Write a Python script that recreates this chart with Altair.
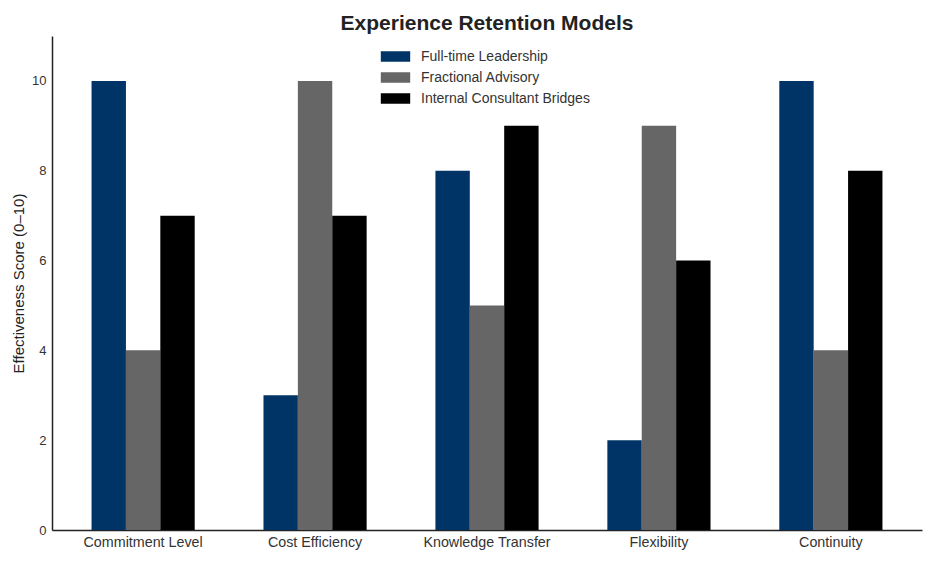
import altair as alt
import pandas as pd

categories = ["Commitment Level", "Cost Efficiency", "Knowledge Transfer", "Flexibility", "Continuity"]
series = ["Full-time Leadership", "Fractional Advisory", "Internal Consultant Bridges"]
full_time = [10, 3, 8, 2, 10]
fractional = [4, 10, 5, 9, 4]
internal = [7, 7, 9, 6, 8]
colors = ["#003366", "#666666", "#000000"]

rows = []
for i, c in enumerate(categories):
    for s, vals in zip(series, [full_time, fractional, internal]):
        rows.append({"Category": c, "Model": s, "Score": vals[i]})
df = pd.DataFrame(rows)

FONT = "Liberation Sans"

chart = alt.Chart(df).mark_bar().encode(
    x=alt.X("Category:N", sort=categories,
            scale=alt.Scale(paddingInner=0.4, paddingOuter=0.23),
            axis=alt.Axis(title=None, labelAngle=0, ticks=False, labelPadding=5,
                          labelFontSize=14.3, labelColor="#333333", labelFont=FONT,
                          domainColor="#222222", domainWidth=1.5)),
    xOffset=alt.XOffset("Model:N", sort=series),
    y=alt.Y("Score:Q", scale=alt.Scale(domain=[0, 11], nice=False),
            axis=alt.Axis(title="Effectiveness Score (0–10)", values=[0, 2, 4, 6, 8, 10],
                          ticks=False, grid=False, labelPadding=6,
                          labelFontSize=13, labelColor="#333333", labelFont=FONT,
                          titleFontSize=15, titleFont=FONT, titleColor="#222222",
                          titleFontWeight="normal", titlePadding=5,
                          domainColor="#222222", domainWidth=1.5)),
    color=alt.Color("Model:N", sort=series,
                    scale=alt.Scale(domain=series, range=colors),
                    legend=alt.Legend(title=None, orient="none", legendX=333, legendY=10,
                                      symbolType="M-1.4,-0.5L1.4,-0.5L1.4,0.5L-1.4,0.5Z",
                                      symbolSize=441, symbolStrokeWidth=0,
                                      labelFontSize=14, labelFont=FONT, labelColor="#333333",
                                      labelOffset=15, labelLimit=300, rowPadding=3, padding=0)),
).properties(
    width=870,
    height=494,
    padding={"left": 44, "top": 28, "right": 6, "bottom": 24},
    autosize=alt.AutoSizeParams(type="none"),
    title=alt.TitleParams("Experience Retention Models", fontSize=21, font=FONT,
                          fontWeight="bold", color="#222222", anchor="middle",
                          baseline="alphabetic", offset=-15),
).configure_view(stroke=None).configure_axis(grid=False)

chart.save("out.html", embed_options={"renderer": "svg", "actions": False})
